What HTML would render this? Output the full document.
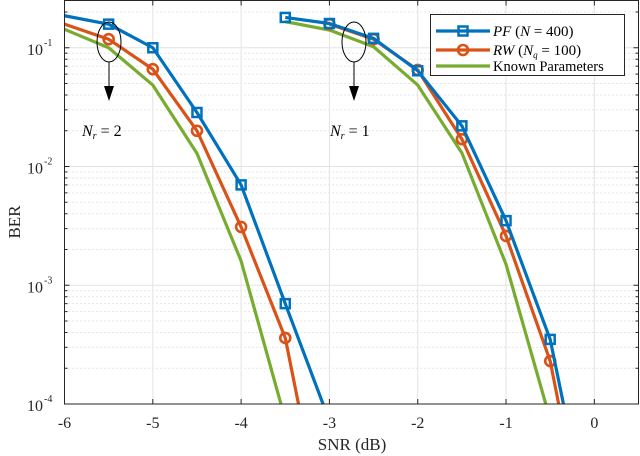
<!DOCTYPE html>
<html><head><meta charset="utf-8"><style>
html,body{margin:0;background:#fff;width:640px;height:456px;overflow:hidden;position:relative}
svg{display:block;font-family:"Liberation Serif",serif}
</style></head><body>
<svg id="chart" width="640" height="456" style="position:absolute;left:0;top:0"></svg>
<script>
const snrA=[-6,-5.5,-5,-4.5,-4,-3.5,-3];
const snrB=[-3.5,-3,-2.5,-2,-1.5,-1,-0.5,0];
const pf2=[0.186,0.158,0.1,0.0285,0.007,0.0007,0.000072];
const rw2=[0.158,0.118,0.066,0.02,0.0031,0.00036,0.000005];
const kn2=[0.143,0.1,0.0485,0.0129,0.0016,0.000074];
const pf1=[0.18,0.16,0.12,0.064,0.022,0.0035,0.00035,0.0000054];
const rw1=[null,0.158,0.118,0.065,0.017,0.0026,0.00023,0.000003];
const kn1=[0.166,0.141,0.102,0.0485,0.013,0.0015,0.000074];
const xTicks=[-6,-5,-4,-3,-2,-1,0];
const yExps=[-1,-2,-3,-4];

const L=64.5,R=638.5,T=0.5,B=404;
const xMin=-6,xMax=0.5,yMinL=-4,yMaxL=Math.log10(0.25);
const xs=v=>L+(v-xMin)/(xMax-xMin)*(R-L);
const ys=v=>B-(Math.log10(v)-yMinL)/(yMaxL-yMinL)*(B-T);
const svg=document.getElementById('chart');
const NS='http://www.w3.org/2000/svg';
function mk(tag,attrs,parent){const e=document.createElementNS(NS,tag);for(const k in attrs)e.setAttribute(k,attrs[k]);(parent||svg).appendChild(e);return e;}

const grid=mk('g',{});


for(let d=-4;d<0;d++){for(let m=2;m<=9;m++){const v=m*Math.pow(10,d);if(v>0.25)continue;const y=ys(v);
 mk('line',{x1:L,x2:R,y1:y,y2:y,stroke:'#ccc','stroke-width':1,'stroke-dasharray':'1,3'},grid);}}
yExps.forEach(e=>{const y=ys(Math.pow(10,e));mk('line',{x1:L,x2:R,y1:y,y2:y,stroke:'#e3e3e3','stroke-width':1},grid);});
xTicks.forEach(t=>{const x=xs(t);mk('line',{x1:x,x2:x,y1:T,y2:B,stroke:'#e3e3e3','stroke-width':1},grid);});

const plot=mk('g',{});
function series(xArr,yArr,color,marker,name){
 const g=mk('g',{},plot);
 
 
 const raw=[];xArr.forEach((x,i)=>{if(i<yArr.length&&yArr[i]!=null)raw.push([xs(x),ys(yArr[i]),x]);});
 const pts=[];
 for(let i=0;i<raw.length;i++){
  const p=raw[i];
  if(p[1]<=B){pts.push(p);continue;}
  if(i>0&&raw[i-1][1]<=B){const q=raw[i-1];const f=(B-q[1])/(p[1]-q[1]);pts.push([q[0]+f*(p[0]-q[0]),B]);}
  break;
 }
 mk('polyline',{points:pts.map(p=>p[0]+','+p[1]).join(' '),fill:'none',stroke:color,'stroke-width':3.2,'stroke-linejoin':'round'},g);
 raw.forEach(p=>{if(p[1]>B||p[2]<=xMin)return;
  if(marker==='s')mk('rect',{x:p[0]-4.5,y:p[1]-4.5,width:9,height:9,fill:'none',stroke:color,'stroke-width':2.5},g);
  else if(marker==='o')mk('circle',{cx:p[0],cy:p[1],r:5,fill:'none',stroke:color,'stroke-width':2.6},g);});
}
series(snrA,kn2,'#77ac30',null,'known-nr2');
series(snrA,rw2,'#d95319','o','rw-nr2');
series(snrA,pf2,'#0072bd','s','pf-nr2');
series(snrB,kn1,'#77ac30',null,'known-nr1');
series(snrB,rw1,'#d95319','o','rw-nr1');
series(snrB,pf1,'#0072bd','s','pf-nr1');

const ax=mk('g',{});


mk('rect',{x:L,y:T,width:R-L,height:B-T,fill:'none',stroke:'#262626','stroke-width':1},ax);
xTicks.forEach(t=>{const x=xs(t);
 mk('line',{x1:x,x2:x,y1:B,y2:B-5,stroke:'#262626'},ax);mk('line',{x1:x,x2:x,y1:T,y2:T+5,stroke:'#262626'},ax);
 const tx=mk('text',{x:x,y:428,'text-anchor':'middle','font-size':16,fill:'#262626'},ax);tx.textContent=t;});
for(let d=-4;d<0;d++){for(let m=1;m<=9;m++){const v=m*Math.pow(10,d);if(v>0.25)continue;const y=ys(v);const l=m===1?5:3;
 mk('line',{x1:L,x2:L+l,y1:y,y2:y,stroke:'#262626'},ax);mk('line',{x1:R,x2:R-l,y1:y,y2:y,stroke:'#262626'},ax);}}
yExps.forEach(e=>{const y=ys(Math.pow(10,e));
 const t=mk('text',{x:43,y:y+7,'text-anchor':'end','font-size':16,fill:'#262626'},ax);t.textContent='10';
 const s=mk('text',{x:44,y:y-2,'text-anchor':'start','font-size':10,fill:'#262626'},ax);s.textContent=e;});
</script>
<svg width="640" height="456" style="position:absolute;left:0;top:0;font-family:'Liberation Serif',serif">
<text x="352" y="450" text-anchor="middle" font-size="17" fill="#262626">SNR (dB)</text>
<text x="0" y="0" transform="translate(20,222) rotate(-90)" text-anchor="middle" font-size="17" fill="#262626">BER</text>
<g>
<ellipse cx="109" cy="42" rx="12" ry="20" fill="none" stroke="#000" stroke-width="1"/>
<line x1="109" y1="62" x2="109" y2="92" stroke="#000"/>
<polygon points="104,86 114,86 109,101" fill="#000"/>
<text x="82" y="136" font-size="16" font-style="italic">N<tspan font-size="10" dy="3">r</tspan><tspan font-style="normal" dy="-3"> = 2</tspan></text>
</g>
<g>
<ellipse cx="354" cy="42" rx="12" ry="20" fill="none" stroke="#000" stroke-width="1"/>
<line x1="354" y1="62" x2="354" y2="92" stroke="#000"/>
<polygon points="349,86 359,86 354,101" fill="#000"/>
<text x="330" y="136" font-size="16" font-style="italic">N<tspan font-size="10" dy="3">r</tspan><tspan font-style="normal" dy="-3"> = 1</tspan></text>
</g>
<g>
<rect x="430.5" y="14.5" width="194" height="61" fill="#fff" stroke="#262626"/>
<g>
<line x1="436" x2="490" y1="31" y2="31" stroke="#0072bd" stroke-width="3.2"/>
<rect x="458.5" y="26.5" width="9" height="9" fill="none" stroke="#0072bd" stroke-width="2.5"/>
<text x="493" y="36" font-size="15"><tspan font-style="italic">PF</tspan> (<tspan font-style="italic">N</tspan> = 400)</text></g>
<g>
<line x1="436" x2="490" y1="50" y2="50" stroke="#d95319" stroke-width="3.2"/>
<circle cx="463" cy="50" r="5" fill="none" stroke="#d95319" stroke-width="2.6"/>
<text x="493" y="55" font-size="15"><tspan font-style="italic">RW</tspan> (<tspan font-style="italic">N</tspan><tspan font-style="italic" font-size="9" dy="3">q</tspan><tspan dy="-3"> = 100)</tspan></text></g>
<g>
<line x1="436" x2="490" y1="66" y2="66" stroke="#77ac30" stroke-width="3.2"/>
<text x="493" y="71" font-size="14.5">Known Parameters</text></g>
</g>
</svg>
</body></html>
